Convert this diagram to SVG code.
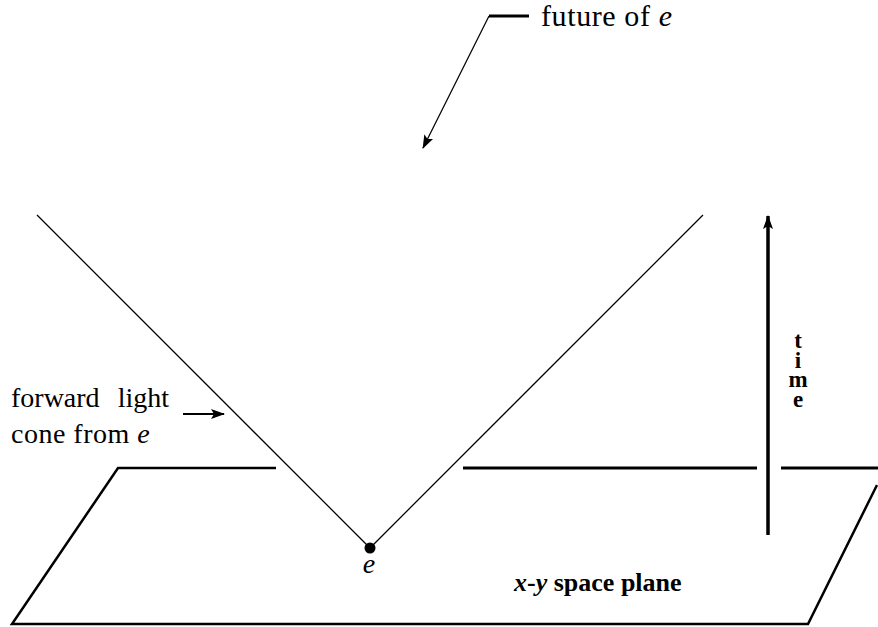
<svg xmlns="http://www.w3.org/2000/svg" width="878" height="627" viewBox="0 0 878 627">
<style>
.txt{font-family:'Liberation Serif','DejaVu Serif',serif;font-size:28px;fill:#000}
.it{font-style:italic}
.bold{font-weight:bold}
.plane-lbl{font-size:26px}
.time-lbl{font-size:23px;writing-mode:vertical-rl;text-orientation:upright;letter-spacing:-5.5px}
.fut{font-size:30px;letter-spacing:0.6px}
.thin{stroke:#000;stroke-width:1.3;fill:none}
.thick{stroke:#000;stroke-width:3;fill:none}
.med{stroke:#000;stroke-width:2.5;fill:none;stroke-linejoin:miter}
</style>
<defs>
<marker id="ah" markerUnits="userSpaceOnUse" markerWidth="14" markerHeight="10" viewBox="0 0 14 10" refX="13" refY="5" orient="auto">
<path d="M0,0 L14,5 L0,10 L3,5 Z" fill="#000"/>
</marker>
</defs>
<rect width="878" height="627" fill="#fff"/>
<g id="plane">
<path class="med" d="M276,468 L118,468 L12,624 L808,624 L877,485"/>
<line class="thick" x1="463" y1="468" x2="757" y2="468"/>
<line class="thick" x1="781" y1="468" x2="878" y2="468"/>
<text class="txt bold plane-lbl" x="514" y="591"><tspan class="it">x</tspan>-<tspan class="it">y</tspan> space plane</text>
</g>
<g id="cone">
<polyline class="thin" points="37,215 370,548 703,215"/>
</g>
<g id="event-e">
<circle cx="370" cy="548" r="5.5" fill="#000"/>
<text class="txt it" x="369" y="573" text-anchor="middle">e</text>
</g>
<g id="time-axis">
<text class="txt bold time-lbl" x="798" y="328">time</text>
</g>
<g id="future-label">
<text class="txt fut" x="541" y="26">future of <tspan class="it">e</tspan></text>
</g>
<g id="cone-label">
<text class="txt" x="11" y="407">forward</text>
<text class="txt" x="169" y="407" text-anchor="end">light</text>
<text class="txt" x="11" y="443" letter-spacing="0.5">cone from <tspan class="it">e</tspan></text>
</g>
<g id="connectors">
<line stroke="#000" stroke-width="3.5" x1="768" y1="535" x2="768" y2="216" marker-end="url(#ah)"/>
<line class="thick" x1="489" y1="16" x2="529" y2="16"/>
<line class="thin" x1="489" y1="16" x2="423" y2="148" marker-end="url(#ah)"/>
<line stroke="#000" stroke-width="2" x1="183" y1="414" x2="224" y2="414" marker-end="url(#ah)"/>
</g>
</svg>
